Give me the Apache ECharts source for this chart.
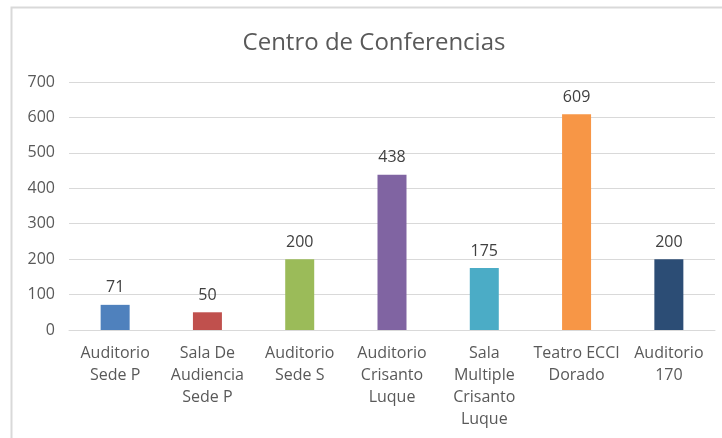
<!DOCTYPE html>
<html>
<head>
<meta charset="utf-8">
<script src="https://cdn.jsdelivr.net/npm/echarts@6/dist/echarts.min.js"></script>
<style>
  html, body { margin: 0; padding: 0; background: #fff; }
  #chart { width: 722px; height: 438px; }
</style>
</head>
<body>
<div id="chart"></div>
<script>
const categories = [
  "Auditorio\nSede P",
  "Sala De\nAudiencia\nSede P",
  "Auditorio\nSede S",
  "Auditorio\nCrisanto\nLuque",
  "Sala\nMultiple\nCrisanto\nLuque",
  "Teatro ECCI\nDorado",
  "Auditorio\n170",
];
const values = [71, 50, 200, 438, 175, 609, 200];
const colors = ["#4F81BD", "#C0504D", "#9BBB59", "#8064A2", "#4BACC6", "#F79646", "#2C4D75"];

const myChart = echarts.init(document.getElementById("chart"));
const font = "'Open Sans', 'Noto Sans', sans-serif";

const option = {
  animation: false,
  textStyle: { fontFamily: font },
  graphic: [
    {
      type: "rect",
      shape: { x: 11.5, y: 7.5, width: 720, height: 440 },
      style: { fill: "none", stroke: "#D9D9D9", lineWidth: 2 },
      silent: true,
    },
  ],
  title: {
    text: "Centro de Conferencias",
    left: 369,
    top: 26,
    textAlign: "center",
    textStyle: { fontFamily: font, fontSize: 24, fontWeight: "normal", color: "#595959" },
  },
  grid: { left: 69, right: 7, top: 82, bottom: 108 },
  xAxis: {
    type: "category",
    data: categories,
    axisTick: { show: false },
    axisLine: { lineStyle: { color: "#D9D9D9" } },
    axisLabel: {
      interval: 0,
      margin: 12,
      fontSize: 16,
      lineHeight: 22,
      color: "#595959",
      fontFamily: font,
    },
  },
  yAxis: {
    type: "value",
    min: 0,
    max: 700,
    interval: 100,
    axisLine: { show: false },
    axisTick: { show: false },
    splitLine: { lineStyle: { color: "#D9D9D9" } },
    axisLabel: { fontSize: 16, color: "#595959", margin: 14, fontFamily: font },
  },
  series: [
    {
      type: "bar",
      barWidth: 29,
      data: values.map((v, i) => ({ value: v, itemStyle: { color: colors[i] } })),
      label: {
        show: true,
        position: "top",
        distance: 9,
        fontSize: 16,
        color: "#404040",
        fontFamily: font,
      },
    },
  ],
};
myChart.setOption(option);
</script>
</body>
</html>
